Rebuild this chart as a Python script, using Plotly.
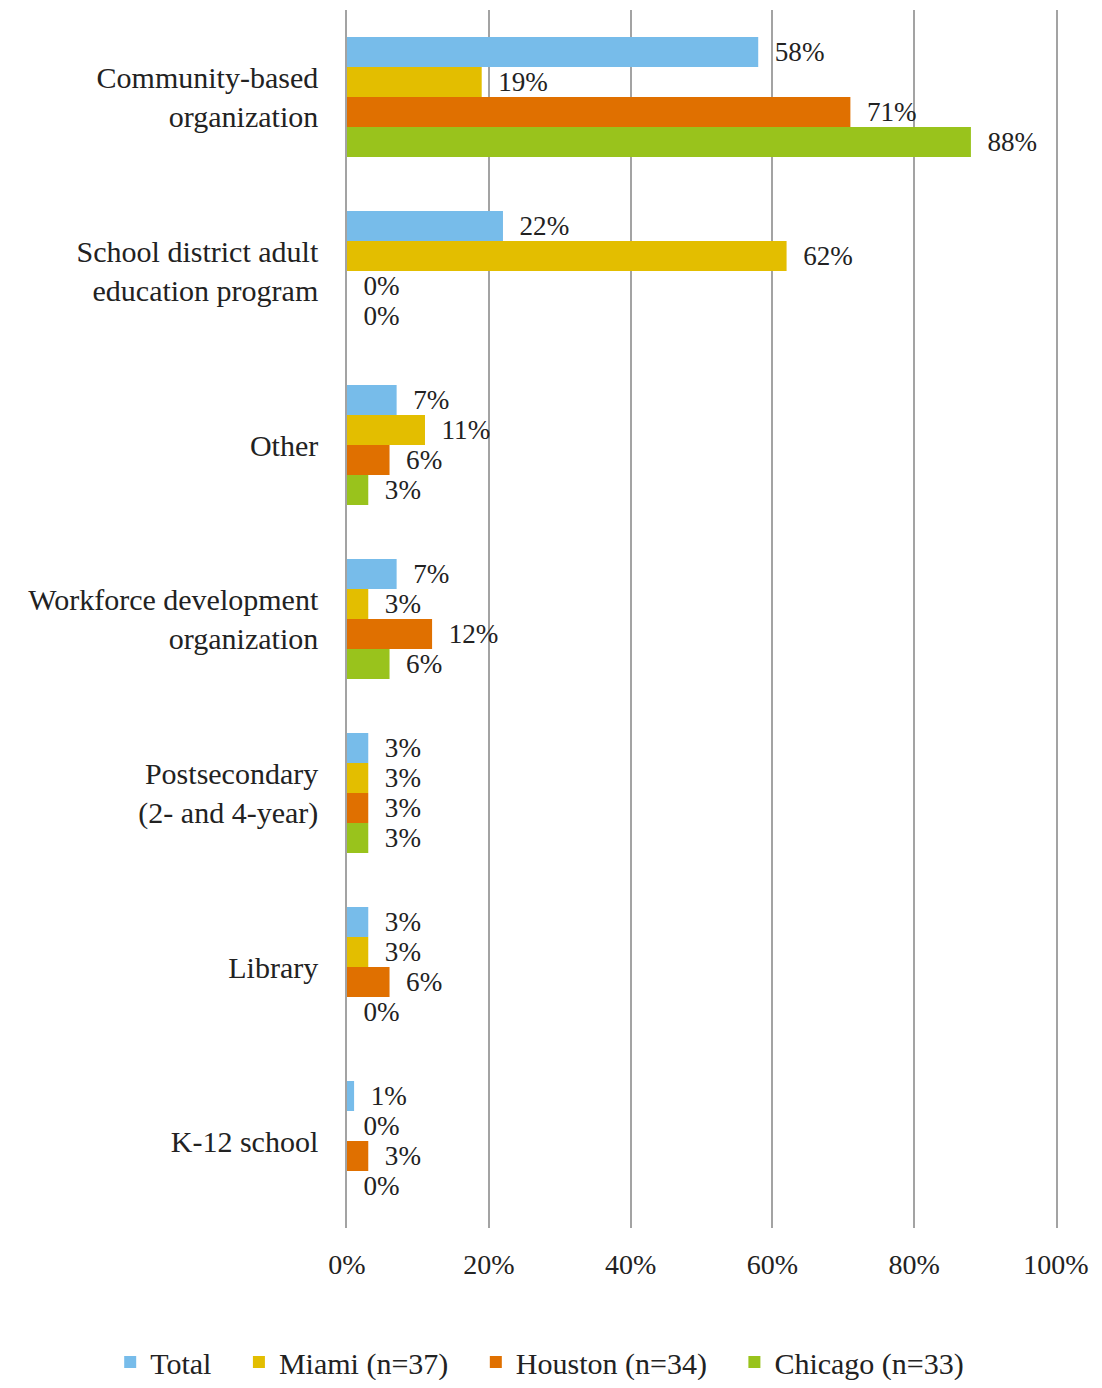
import plotly.graph_objects as go

categories = [
    "Community-based<br>organization",
    "School district adult<br>education program",
    "Other",
    "Workforce development<br>organization",
    "Postsecondary<br>(2- and 4-year)",
    "Library",
    "K-12 school",
]
series_names = ["Total", "Miami (n=37)", "Houston (n=34)", "Chicago (n=33)"]
total = [58, 22, 7, 7, 3, 3, 1]
miami = [19, 62, 11, 3, 3, 3, 0]
houston = [71, 0, 6, 12, 3, 6, 3]
chicago = [88, 0, 3, 6, 3, 0, 0]
x_ticks = [0, 20, 40, 60, 80, 100]
x_tick_labels = ["0%", "20%", "40%", "60%", "80%", "100%"]

colors = ["#77BCEA", "#E3BE00", "#E07000", "#99C31C"]
FONT = "Liberation Serif, Times New Roman, serif"
GRID = "#A3A3A3"
PAD = "\u00a0\u00a0\u00a0"

fig = go.Figure()
for name, vals, col in zip(series_names, [total, miami, houston, chicago], colors):
    fig.add_trace(go.Bar(
        y=categories, x=vals, name=name + PAD, orientation="h",
        marker=dict(color=col, line=dict(width=0)),
        text=[f"\u00a0\u00a0{v}%" for v in vals], textposition="outside",
        textfont=dict(family=FONT, size=28, color="#222222"),
        cliponaxis=False,
    ))

fig.update_layout(
    width=1086, height=1372,
    barmode="group", bargap=0.31, bargroupgap=0,
    plot_bgcolor="white", paper_bgcolor="white",
    font=dict(family=FONT, size=28, color="#222222"),
    margin=dict(l=339, r=38, t=2, b=152, autoexpand=False),
    xaxis=dict(range=[0, 100], tickvals=x_ticks, ticktext=x_tick_labels,
               showgrid=True, gridcolor=GRID, gridwidth=1.5,
               zeroline=False, showline=False, ticks="", ticklen=0,
               tickfont=dict(family=FONT, size=28), ticklabelstandoff=17,
               automargin=False),
    yaxis=dict(autorange="reversed", showline=True, mirror=True,
               linecolor=GRID, linewidth=1.5,
               ticks="", showgrid=False, tickfont=dict(family=FONT, size=30),
               ticklabelstandoff=21, automargin=False),
    legend=dict(orientation="h", x=-0.334, xanchor="left",
                y=-0.110, yanchor="middle",
                font=dict(family=FONT, size=30), traceorder="normal",
                itemwidth=30),
)
fig.write_html("out.html")
